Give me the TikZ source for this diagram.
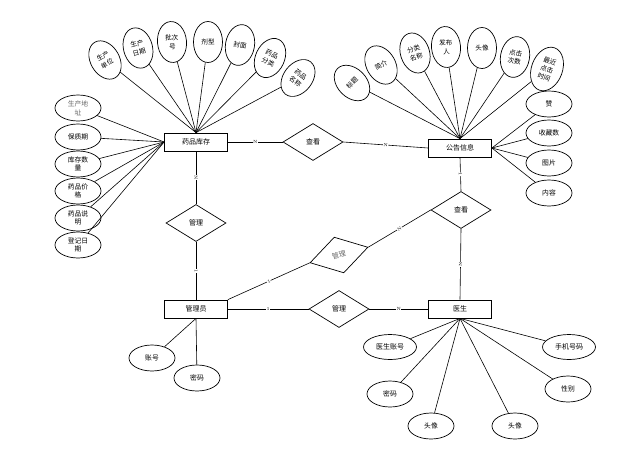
\documentclass[tikz,border=0pt]{standalone}
\usepackage{fontspec}
\newfontfamily\cjk{Noto Sans CJK SC}
\usetikzlibrary{shapes.geometric}
\begin{document}
\begin{tikzpicture}[x=1pt,y=-1pt,
  every node/.style={font=\cjk\fontsize{7}{8}\selectfont},
  ent/.style={draw, rectangle, minimum width=63pt, minimum height=18pt, inner sep=0pt, line width=0.8pt},
  rel/.style={draw, diamond, aspect=1.6, minimum width=60pt, minimum height=37pt, inner sep=0pt, line width=0.7pt},
  att/.style={draw, ellipse, minimum width=46pt, minimum height=26pt, inner sep=0pt, align=center, line width=0.7pt, font=\cjk\fontsize{6.8}{8.6}\selectfont},
  vat/.style={draw, ellipse, minimum width=29pt, minimum height=41pt, inner sep=0pt, align=center, line width=0.7pt, font=\cjk\fontsize{6.6}{8.6}\selectfont},
  wat/.style={draw, ellipse, minimum width=53pt, minimum height=25pt, inner sep=0pt, align=center, line width=0.7pt},
  ln/.style={line width=0.6pt},
  lab/.style={font=\fontsize{4.5}{5}\selectfont, fill=white, inner sep=0.4pt, sloped}
]
\useasboundingbox (0,0) rectangle (629,461);
% entities
\node[ent] (yp) at (196,142) {药品库存};
\node[ent] (gg) at (460,148) {公告信息};
\node[ent] (gly) at (196,309) {管理员};
\node[ent] (ys) at (460,309) {医生};
% relations
\node[rel] (ck1) at (313,142) {查看};
\node[rel] (gl1) at (196,223) {管理};
\node[rel] (ck2) at (461,210) {查看};
\node[rel, rotate=15, text=black!60] (gl2) at (339,255) {管理};
\node[rel] (gl3) at (339,309) {管理};
% drug stock left attributes
\node[att, text=black!60] (a1) at (78,108) {生产地\\址};
\node[att] (a2) at (78,137) {保质期};
\node[att] (a3) at (78,164) {库存数\\量};
\node[att] (a4) at (78,191) {药品价\\格};
\node[att] (a5) at (78,218) {药品说\\明};
\node[att] (a6) at (78,245) {登记日\\期};
\foreach \n in {a1,a2,a3,a4,a5,a6} \draw[ln] (\n) -- (yp.west);
% drug stock top attributes
\node[vat, rotate=30] (t1) at (105,60) {生产\\单位};
\node[vat, rotate=15] (t2) at (138,48) {生产\\日期};
\node[vat, rotate=5] (t3) at (172,42) {批次\\号};
\node[vat] (t4) at (208,42) {剂型};
\node[vat, rotate=-10] (t5) at (240,45) {封面};
\node[vat, rotate=-25] (t6) at (270,58) {药品\\分类};
\node[vat, rotate=-38] (t7) at (298,78) {药品\\名称};
\foreach \n in {t1,t2,t3,t4,t5,t6,t7} \draw[ln] (\n) -- (yp.north);
% announcement top attributes
\node[vat, rotate=45] (u1) at (352,83) {标题};
\node[vat, rotate=30] (u2) at (381,65) {简介};
\node[vat, rotate=18] (u3) at (415,53) {分类\\名称};
\node[vat, rotate=5] (u4) at (446,47) {发布\\人};
\node[vat] (u5) at (482,48) {头像};
\node[vat, rotate=-10] (u6) at (515,57) {点击\\次数};
\node[vat, rotate=-20, minimum width=31pt, minimum height=45pt] (u7) at (547,69) {最近\\点击\\时间};
\foreach \n in {u1,u2,u3,u4,u5,u6,u7} \draw[ln] (\n) -- (gg.north);
% announcement right attributes
\node[att] (r1) at (549,104) {赞};
\node[att] (r2) at (549,133) {收藏数};
\node[att] (r3) at (549,163) {图片};
\node[att] (r4) at (549,193) {内容};
\foreach \n in {r1,r2,r3,r4} \draw[ln] (\n) -- (gg.east);
% admin attributes
\node[att] (b1) at (152,358) {账号};
\node[att] (b2) at (197,378) {密码};
\draw[ln] (b1) -- (gly.south);
\draw[ln] (b2) -- (gly.south);
% doctor attributes
\node[wat] (d1) at (390,347) {医生账号};
\node[att] (d2) at (390,394) {密码};
\node[att] (d3) at (431,426) {头像};
\node[att] (d4) at (515,426) {头像};
\node[att] (d5) at (568,389) {性别};
\node[wat] (d6) at (569,347) {手机号码};
\foreach \n in {d1,d2,d3,d4,d5,d6} \draw[ln] (\n) -- (ys.south);
% relationships
\draw[ln] (yp.east) -- node[lab] {N} (ck1.west);
\draw[ln] (ck1.east) -- node[lab] {N} (gg.west);
\draw[ln] (yp.south) -- node[lab] {N} (gl1.north);
\draw[ln] (gl1.south) -- node[lab] {1} (gly.north);
\draw[ln] (gly.north east) -- node[lab] {1} (gl2.west);
\draw[ln] (gl2.east) -- node[lab] {N} (ck2.west);
\draw[ln] (gly.east) -- node[lab] {1} (gl3.west);
\draw[ln] (gl3.east) -- node[lab] {N} (ys.west);
\draw[ln] (gg.south) -- node[lab] {1} (ck2.north);
\draw[ln] (ck2.south) -- node[lab] {N} (ys.north);
\end{tikzpicture}
\end{document}
